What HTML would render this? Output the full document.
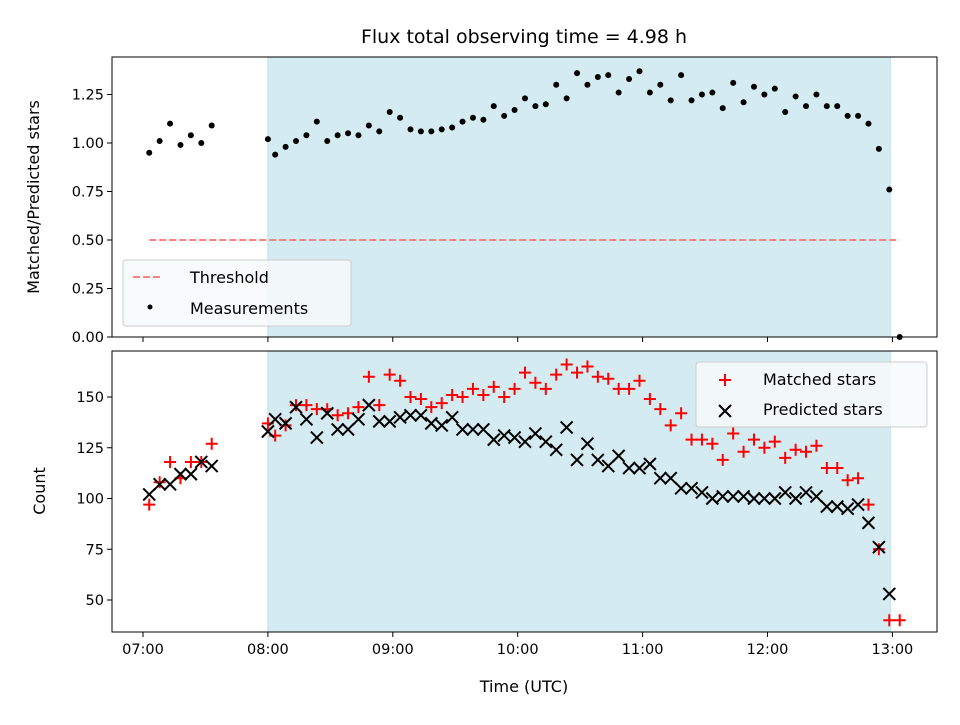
<!DOCTYPE html>
<html><head><meta charset="utf-8"><style>
body{margin:0;background:#fff;}
svg{font-family:"DejaVu Sans","Liberation Sans",sans-serif;}
</style></head><body>
<svg id="chart" width="960" height="720" viewBox="0 0 960 720" xmlns="http://www.w3.org/2000/svg">
<rect width="960" height="720" fill="#fff"/>
<text x="524" y="43" font-size="19" text-anchor="middle">Flux total observing time = 4.98 h</text>
<g id="topPanel"></g><g id="botPanel"></g>
<text x="524" y="692" font-size="16" text-anchor="middle">Time (UTC)</text>
<text transform="translate(39,197) rotate(-90)" font-size="16" text-anchor="middle">Matched/Predicted stars</text>
<text transform="translate(45,491) rotate(-90)" font-size="16" text-anchor="middle">Count</text>
</svg>
<script>
// minutes since 07:00
const times=[3,8,13,18,23,28,33,60,63.5,68.5,73.5,78.5,83.5,88.5,93.5,98.5,103.5,108.5,113.5,118.5,123.5,128.5,133.5,138.5,143.5,148.5,153.5,158.5,163.5,168.5,173.5,178.5,183.5,188.5,193.5,198.5,203.5,208.5,213.5,218.5,223.5,228.5,233.5,238.5,243.5,248.5,253.5,258.5,263.5,268.5,273.5,278.5,283.5,288.5,293.5,298.5,303.5,308.5,313.5,318.5,323.5,328.5,333.5,338.5,343.5,348.5,353.5,358.5,363.5];
const matched=[97,108,118,110,118,118,127,137,131,136,146,146,144,144,141,142,145,160,146,161,158,150,149,145,147,151,150,154,151,155,150,154,162,157,154,161,166,162,165,160,159,154,154,158,149,144,136,142,129,129,127,119,132,123,129,125,128,120,124,123,126,115,115,109,110,97,75,40,40];
const predicted=[102,107,107,112,112,118,116,133,139,137,145,139,130,142,134,134,139,146,138,138,140,141,141,137,136,140,134,134,134,129,131,130,128,132,128,124,135,119,127,119,116,121,115,115,117,110,110,105,105,103,100,101,101,101,100,100,100,103,100,103,101,96,96,95,97,88,76,53,null];
const ratio=[0.95,1.01,1.10,0.99,1.04,1.00,1.09,1.02,0.94,0.98,1.01,1.04,1.11,1.01,1.04,1.05,1.04,1.09,1.06,1.16,1.13,1.07,1.06,1.06,1.07,1.08,1.11,1.13,1.12,1.19,1.14,1.17,1.23,1.19,1.20,1.30,1.23,1.36,1.30,1.34,1.35,1.26,1.33,1.37,1.26,1.30,1.22,1.35,1.22,1.25,1.26,1.18,1.31,1.21,1.29,1.25,1.28,1.16,1.24,1.19,1.25,1.19,1.19,1.14,1.14,1.10,0.97,0.76,0.0];
const xTicks=["07:00","08:00","09:00","10:00","11:00","12:00","13:00"];
const topTicks=[0,0.25,0.5,0.75,1.0,1.25];
const botTicks=[50,75,100,125,150];
const spanRange=[60,359];
const threshold=0.5;
const thrRange=[3,363.5];

const NS="http://www.w3.org/2000/svg";
const X=m=>143+m*2.0817;
const L=112,R=937;
const topA={t:57,b:337,y:v=>337-v*194};
const botA={t:351,b:632,y:v=>600-(v-50)*2.03};
function el(p,tag,a){const e=document.createElementNS(NS,tag);for(const k in a)e.setAttribute(k,a[k]);p.appendChild(e);return e;}
function axes(g,A,ticks,fmt,labels,nm){
  const s=el(g,'rect',{x:X(spanRange[0]),y:A.t,width:X(spanRange[1])-X(spanRange[0]),height:A.b-A.t,fill:'#d4ebf1',stroke:'#bfe0ea'});
  
  
  ticks.forEach(v=>{const y=A.y(v);
    el(g,'line',{x1:L-5,x2:L,y1:y,y2:y,stroke:'#000'});
    const t=el(g,'text',{x:L-8,y:y+5,'font-size':14.5,'text-anchor':'end'});t.textContent=fmt(v);
    
    });
  xTicks.forEach((lb,i)=>{const x=X(i*60);
    el(g,'line',{x1:x,x2:x,y1:A.b,y2:A.b+5,stroke:'#000'});
    if(labels){const t=el(g,'text',{x:x,y:A.b+22,'font-size':14.5,'text-anchor':'middle'});t.textContent=lb;
      
      }});
}
function frame(g,A,nm){const f=el(g,'rect',{x:L,y:A.t,width:R-L,height:A.b-A.t,fill:'none',stroke:'#000','stroke-width':1});
  
  }
function plus(g,x,y,c){el(g,'path',{d:`M${x-6} ${y}H${x+6}M${x} ${y-6}V${y+6}`,stroke:c,'stroke-width':2});}
function cross(g,x,y,c){el(g,'path',{d:`M${x-6} ${y-6}L${x+6} ${y+6}M${x+6} ${y-6}L${x-6} ${y+6}`,stroke:c,'stroke-width':2});}

const gTop=document.getElementById('topPanel'),gBot=document.getElementById('botPanel');
axes(gTop,topA,topTicks,v=>v.toFixed(2),false,'top');
axes(gBot,botA,botTicks,v=>String(v),true,'bottom');
const th=el(gTop,'line',{x1:X(thrRange[0]),x2:X(thrRange[1]),y1:topA.y(threshold),y2:topA.y(threshold),stroke:'#ff8080','stroke-width':2,'stroke-dasharray':'7,3'});


const ms=el(gTop,'g',{});


ratio.forEach((v,i)=>{if(v==null)return;el(ms,'circle',{cx:X(times[i]),cy:topA.y(v),r:3,fill:'#000'});});
const mg=el(gBot,'g',{});


const pg=el(gBot,'g',{});


matched.forEach((v,i)=>{if(v!=null)plus(mg,X(times[i]),botA.y(v),'#f00');});
predicted.forEach((v,i)=>{if(v!=null)cross(pg,X(times[i]),botA.y(v),'#000');});
frame(gTop,topA,'top');frame(gBot,botA,'bottom');

const lg1=el(gTop,'g',{});


el(lg1,'rect',{x:123,y:260,width:228,height:66,rx:3,fill:'#f7fafc','fill-opacity':0.85,stroke:'#ccc'});
el(lg1,'line',{x1:133,x2:161,y1:277,y2:277,stroke:'#ff8080','stroke-width':2,'stroke-dasharray':'7,3'});
let t=el(lg1,'text',{x:190,y:283,'font-size':16});t.textContent='Threshold';
el(lg1,'circle',{cx:150,cy:307,r:2.5,fill:'#000'});
t=el(lg1,'text',{x:190,y:314,'font-size':16});t.textContent='Measurements';
const lg2=el(gBot,'g',{});


el(lg2,'rect',{x:696,y:362,width:231,height:65,rx:3,fill:'#f7fafc','fill-opacity':0.85,stroke:'#ccc'});
plus(lg2,725,380,'#f00');
t=el(lg2,'text',{x:763,y:385,'font-size':16});t.textContent='Matched stars';
cross(lg2,725,411,'#000');
t=el(lg2,'text',{x:763,y:415,'font-size':16});t.textContent='Predicted stars';
</script>
</body></html>
